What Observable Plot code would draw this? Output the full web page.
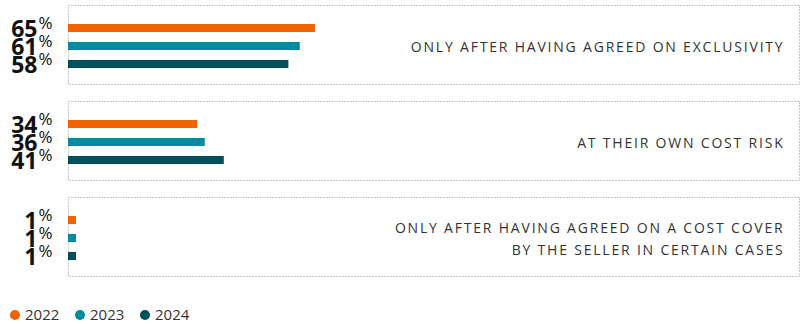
<!DOCTYPE html>
<html>
<head>
<meta charset="utf-8">
<script src="https://cdn.jsdelivr.net/npm/d3@7"></script>
<script src="https://cdn.jsdelivr.net/npm/@observablehq/plot@0.6"></script>
<style>
  body { margin: 0; background: #fff; font-family: "Open Sans", sans-serif; overflow: hidden; }
  #legend { display: flex; align-items: center; height: 14px; line-height: 14px; margin-top: 17px; padding-left: 10px; font-size: 15px; color: #333; }
  .item { display: flex; align-items: center; width: 65px; }
  .dot { width: 10px; height: 10px; border-radius: 50%; margin-right: 5px; flex: none; margin-top: 2px; }
</style>
</head>
<body>
<div id="chart"></div>
<div id="legend"></div>
<script>
const categories = [
  "ONLY AFTER HAVING AGREED ON EXCLUSIVITY",
  "AT THEIR OWN COST RISK",
  "ONLY AFTER HAVING AGREED ON A COST COVER\nBY THE SELLER IN CERTAIN CASES"
];
const years = ["2022", "2023", "2024"];
const values2022 = [65, 34, 1];
const values2023 = [61, 36, 1];
const values2024 = [58, 41, 1];
const colors = ["#f06400", "#008b9f", "#00505c"];

const series = [values2022, values2023, values2024];
const data = [];
categories.forEach((c, i) => years.forEach((y, j) => data.push({category: c, year: y, value: series[j][i]})));

const chart = Plot.plot({
  width: 803,
  height: 290,
  marginTop: 5,
  marginBottom: 13,
  marginLeft: 68,
  marginRight: 4,
  style: {fontFamily: "'Open Sans', sans-serif", background: "#fff"},
  x: {domain: [0, 192.4], axis: null},
  y: {domain: years, axis: null, paddingInner: 0.556, paddingOuter: 0.972, align: 0.543},
  fy: {domain: categories, axis: null, paddingInner: 0.177, paddingOuter: 0},
  color: {domain: years, range: colors},
  marks: [
    Plot.frame({stroke: "#8a8a8a", strokeDasharray: "1,2", strokeWidth: 1}),
    Plot.barX(data, {fy: "category", y: "year", x: d => Math.max(d.value, 2.1), fill: "year"}),
    Plot.text(data, {fy: "category", y: "year", text: d => String(d.value), frameAnchor: "left", dx: -31, dy: 1, textAnchor: "end", fontSize: 23, fontWeight: "bold", fill: "#111"}),
    Plot.text(data, {fy: "category", y: "year", text: () => "%", frameAnchor: "left", dx: -30, dy: -5, textAnchor: "start", fontSize: 17, fill: "#111"}),
    Plot.text(categories, {fy: d => d, text: d => d, frameAnchor: "right", dx: -15, textAnchor: "end", fontSize: 14, fill: "#333", lineHeight: 1.57})
  ]
});
document.getElementById("chart").appendChild(chart);

// letter-spaced category labels
const lines = new Set(categories.flatMap(c => c.split("\n")));
d3.select(chart).selectAll("text, tspan").each(function() {
  const el = this;
  if (lines.has(el.textContent) || categories.includes(el.textContent.replace(/\s+/g, " "))) {
    el.setAttribute("letter-spacing", "1.8");
    el.style.letterSpacing = "1.8px";
  }
});

const legend = document.getElementById("legend");
years.forEach((y, i) => {
  const item = document.createElement("div");
  item.className = "item";
  const dot = document.createElement("span");
  dot.className = "dot";
  dot.style.background = colors[i];
  const label = document.createElement("span");
  label.textContent = y;
  item.appendChild(dot);
  item.appendChild(label);
  legend.appendChild(item);
});
</script>
</body>
</html>
